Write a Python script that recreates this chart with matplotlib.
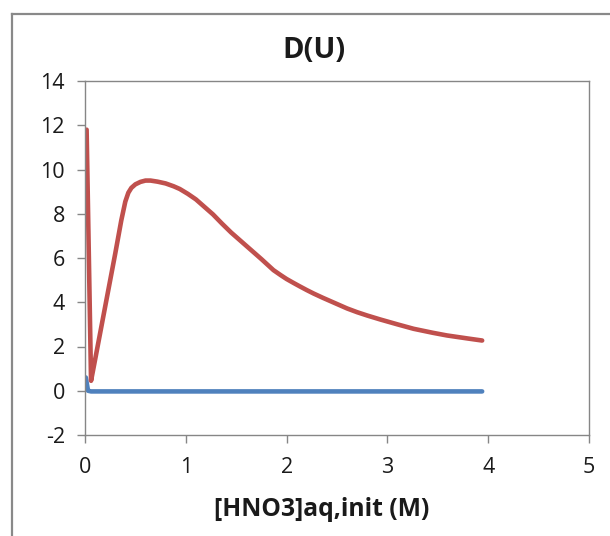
import matplotlib
matplotlib.use("Agg")
import matplotlib.pyplot as plt
from matplotlib.lines import Line2D

plt.rcParams['font.family'] = ['Open Sans', 'DejaVu Sans']

# Data
hno3_red = [0.016, 0.06, 0.1, 0.2, 0.3, 0.36, 0.40, 0.43, 0.46, 0.50, 0.55, 0.60, 0.65,
            0.72, 0.8, 0.88, 0.94, 1.02, 1.1, 1.18, 1.27, 1.36, 1.45, 1.6, 1.75, 1.87,
            1.94, 2.0, 2.07, 2.13, 2.2, 2.27, 2.36, 2.45, 2.6, 2.7, 2.8, 2.93, 3.1,
            3.26, 3.45, 3.59, 3.8, 3.94]
d_red = [11.8, 0.45, 1.4, 3.8, 6.2, 7.7, 8.55, 8.95, 9.17, 9.33, 9.44, 9.5, 9.5,
         9.45, 9.37, 9.24, 9.12, 8.9, 8.65, 8.33, 7.97, 7.55, 7.15, 6.55, 5.95, 5.45,
         5.23, 5.05, 4.87, 4.72, 4.55, 4.39, 4.2, 4.02, 3.72, 3.55, 3.4, 3.22, 3.0,
         2.8, 2.62, 2.5, 2.36, 2.27]

hno3_blue = [0.008, 0.03, 0.06, 0.5, 1.0, 1.5, 2.0, 2.5, 3.0, 3.5, 3.94]
d_blue = [0.6, 0.0, -0.03, -0.03, -0.03, -0.03, -0.03, -0.03, -0.03, -0.03, -0.03]

x_ticks = [0, 1, 2, 3, 4, 5]
y_ticks = [-2, 0, 2, 4, 6, 8, 10, 12, 14]

title = "D(U)"
xlabel = "[HNO3]aq,init (M)"

W, H = 610, 536
fig = plt.figure(figsize=(W / 100, H / 100), dpi=100)
ax = fig.add_axes([85 / W, 1 - 435 / H, (589 - 85) / W, (435 - 81) / H])

ax.plot(hno3_blue, d_blue, color='#4F81BD', lw=3.3, solid_capstyle='round',
        solid_joinstyle='round')
ax.plot(hno3_red, d_red, color='#C0504D', lw=3.3, solid_capstyle='round',
        solid_joinstyle='round')

ax.set_xlim(0, 5)
ax.set_ylim(-2, 14)
ax.set_xticks(x_ticks)
ax.set_yticks(y_ticks)
ax.set_xticklabels([str(v) for v in x_ticks])
ax.set_yticklabels([str(v) for v in y_ticks])

spine_col = '#868686'
for s in ax.spines.values():
    s.set_color(spine_col)
    s.set_linewidth(1.0)
ax.tick_params(axis='both', direction='out', length=5.5, width=1.0, color=spine_col,
               labelsize=15.5, labelcolor='#1a1a1a')
ax.tick_params(axis='y', pad=9)
ax.tick_params(axis='x', pad=10)

fig.text(314 / W, 1 - 50 / H, title, ha='center', va='center', fontsize=21,
         fontweight='bold', color='#1a1a1a')
fig.text(322 / W, 1 - 509 / H, xlabel, ha='center', va='center', fontsize=17.8,
         fontweight='bold', color='#1a1a1a')

# outer chart border (left and top visible)
border_col = '#898989'
fig.add_artist(Line2D([11.5 / W, 11.5 / W], [0, 1 - 13.5 / H], transform=fig.transFigure,
                      color=border_col, lw=1.6))
fig.add_artist(Line2D([11.5 / W, 1], [1 - 13.5 / H, 1 - 13.5 / H], transform=fig.transFigure,
                      color=border_col, lw=1.6))

fig.savefig('out.png', dpi=100)
